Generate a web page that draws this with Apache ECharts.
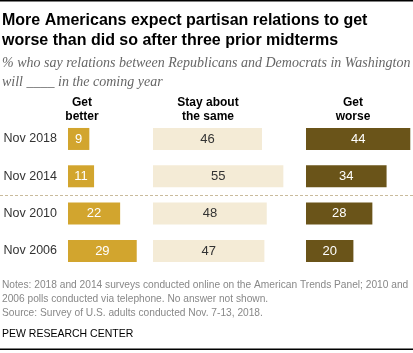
<!DOCTYPE html>
<html>
<head>
<meta charset="utf-8">
<script src="https://cdn.jsdelivr.net/npm/echarts@6/dist/echarts.min.js"></script>
<style>
  html, body { margin: 0; padding: 0; background: #fff; }
  #chart { width: 413px; height: 353px; }
</style>
</head>
<body>
<div id="chart"></div>
<script>
var years = ['Nov 2018', 'Nov 2014', 'Nov 2010', 'Nov 2006'];
var getBetter = [9, 11, 22, 29];
var staySame = [46, 55, 48, 47];
var getWorse = [44, 34, 28, 20];
var columnNames = ['Get\nbetter', 'Stay about\nthe same', 'Get\nworse'];

var pxPerUnit = 2.37; // same scale for all three panels
var sans = '"Liberation Sans", Arial, sans-serif';

var panels = [
    {data: getBetter, left: 68, max: 30, color: '#D2A52E', label: '#fff', head: 82},
    {data: staySame, left: 153, max: 60, color: '#F4EBD6', label: '#333', head: 208},
    {data: getWorse, left: 306, max: 45, color: '#6A5419', label: '#fff', head: 353}
];

var grids = [], xAxes = [], yAxes = [], series = [];
panels.forEach(function (p, i) {
    grids.push({left: p.left, top: 120.3, width: p.max * pxPerUnit, height: 149.3});
    xAxes.push({type: 'value', gridIndex: i, min: 0, max: p.max, show: false});
    yAxes.push({
        type: 'category', gridIndex: i, data: years, inverse: true,
        axisLine: {show: false}, axisTick: {show: false}, splitLine: {show: false},
        axisLabel: {show: i === 0, margin: 11, color: '#333', fontSize: 12.5, fontFamily: sans}
    });
    series.push({
        type: 'bar', xAxisIndex: i, yAxisIndex: i, data: p.data, barWidth: 22,
        itemStyle: {color: p.color}, silent: true,
        label: {show: true, position: 'inside', color: p.label, fontSize: 13, fontFamily: sans}
    });
});

var texts = [
    {x: 2, y: 11, text: 'More Americans expect partisan relations to get\nworse than did so after three prior midterms',
        font: 'bold 16px ' + sans, fill: '#000', lineHeight: 20},
    {x: 2, y: 54, text: '% who say relations between Republicans and Democrats in Washington\nwill ____ in the coming year',
        font: 'italic 14px "Liberation Serif", serif', fill: '#666', lineHeight: 19},
    {x: 2, y: 278, text: 'Notes: 2018 and 2014 surveys conducted online on the American Trends Panel; 2010 and\n2006 polls conducted via telephone. No answer not shown.\nSource: Survey of U.S. adults conducted Nov. 7-13, 2018.',
        font: '10.2px ' + sans, fill: '#888', lineHeight: 14},
    {x: 2, y: 327, text: 'PEW RESEARCH CENTER', font: '10.5px ' + sans, fill: '#000', lineHeight: 14}
];

var graphic = texts.map(function (t) {
    return {type: 'text', x: t.x, y: t.y, silent: true,
        style: {text: t.text, font: t.font, fill: t.fill, lineHeight: t.lineHeight, textVerticalAlign: 'top'}};
});
panels.forEach(function (p, i) {
    graphic.push({type: 'text', x: p.head, y: 96, silent: true,
        style: {text: columnNames[i], font: 'bold 12px ' + sans, fill: '#000', lineHeight: 14,
            textAlign: 'center', textVerticalAlign: 'top'}});
});
// rules top and bottom, dashed separator between online and phone surveys
graphic.push({type: 'rect', shape: {x: 0, y: 0, width: 413, height: 1.5}, style: {fill: '#000'}, silent: true});
graphic.push({type: 'rect', shape: {x: 0, y: 348.5, width: 413, height: 1.5}, style: {fill: '#000'}, silent: true});
graphic.push({type: 'line', shape: {x1: 0, y1: 195.5, x2: 413, y2: 195.5}, silent: true,
    style: {stroke: '#C9BB9C', lineWidth: 1, lineDash: [3, 2]}});

var chart = echarts.init(document.getElementById('chart'), null, {renderer: 'canvas'});
chart.setOption({
    animation: false,
    grid: grids,
    xAxis: xAxes,
    yAxis: yAxes,
    series: series,
    graphic: graphic
});
</script>
</body>
</html>
